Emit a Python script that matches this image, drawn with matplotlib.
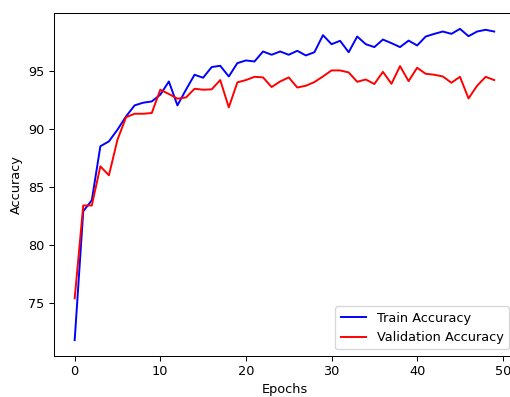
import matplotlib
matplotlib.use("Agg")
import matplotlib.pyplot as plt

epochs = list(range(50))
train_acc = [71.8, 82.9, 83.85, 88.5, 88.92, 89.93, 91.07, 92.02, 92.25, 92.36,
             92.94, 94.08, 92.02, 93.37, 94.66, 94.4, 95.32, 95.43, 94.51, 95.66,
             95.89, 95.8, 96.66, 96.38, 96.66, 96.38, 96.72, 96.32, 96.6, 98.07,
             97.29, 97.58, 96.6, 97.95, 97.29, 97.04, 97.69, 97.38, 97.04, 97.6,
             97.18, 97.95, 98.18, 98.38, 98.18, 98.61, 97.98, 98.38, 98.53, 98.38]
val_acc = [75.4, 83.4, 83.4, 86.77, 86.0, 89.07, 91.0, 91.3, 91.3, 91.36,
           93.37, 93.0, 92.6, 92.7, 93.45, 93.37, 93.4, 94.2, 91.85, 94.0,
           94.2, 94.48, 94.43, 93.6, 94.08, 94.43, 93.56, 93.71, 94.03, 94.51,
           95.03, 95.03, 94.86, 94.05, 94.25, 93.86, 94.91, 93.88, 95.4, 94.11,
           95.26, 94.74, 94.66, 94.51, 93.97, 94.48, 92.62, 93.71, 94.48, 94.2]

DPI = 93
fig = plt.figure(figsize=(511 / DPI, 397 / DPI), dpi=DPI)
ax = fig.add_axes([0.1051, 0.104, 0.9031, 0.8625])
ax.plot(epochs, train_acc, color="blue", label="Train Accuracy")
ax.plot(epochs, val_acc, color="red", label="Validation Accuracy")
ax.set_xlabel("Epochs")
ax.set_ylabel("Accuracy")
ax.set_yticks([75, 80, 85, 90, 95])
ax.legend(loc="lower right")
fig.savefig("out.png", dpi=DPI)
